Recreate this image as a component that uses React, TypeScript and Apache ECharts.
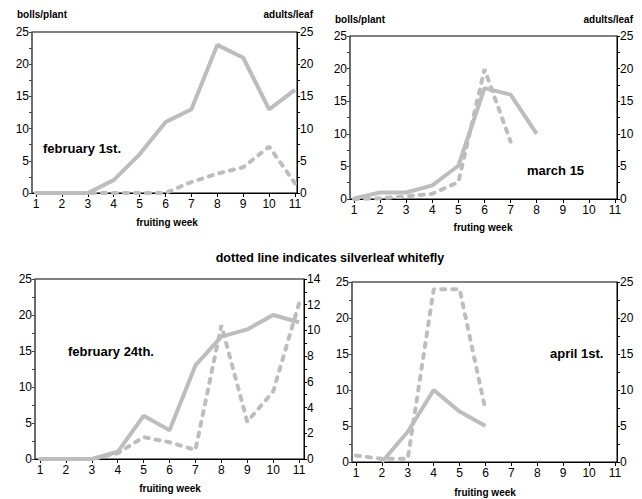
import React, { useEffect, useRef } from "react";
import * as echarts from "echarts";

const weeks = [1, 2, 3, 4, 5, 6, 7, 8, 9, 10, 11];
const weekTicks = [1, 2, 3, 4, 5, 6, 7, 8, 9, 10, 11];

// february 1st.
const feb1Bolls = [0, 0, 0, 2, 6, 11, 13, 23, 21, 13, 16];
const feb1Adults = [0, 0, 0, 0, 0, 0, 1.7, 3, 4, 7.2, 1.5];
// march 15
const mar15Bolls = [0.1, 1, 1, 2.1, 5.1, 17, 16, 10, null, null, null];
const mar15Adults = [0, 0.1, 0.4, 0.8, 2.6, 19.9, 8.8, null, null, null, null];
// february 24th.
const feb24Bolls = [0, 0, 0, 1, 6, 4, 13, 17, 18, 20, 19];
const feb24Adults = [0, 0, 0, 0.45, 1.7, 1.3, 0.7, 10.4, 2.9, 5.25, 12.1];
// april 1st.
const apr1Bolls = [null, 0, 4.2, 10, 7, 5, null, null, null, null, null];
const apr1Adults = [0.9, 0.45, 0.45, 24, 24, 7.2, null, null, null, null, null];

const titles = ["february 1st.", "march 15", "february 24th.", "april 1st."];
const xTitles = ["fruiting week", "fruting week", "fruiting week", "fruiting week"];
const rightMax = [25, 25, 14, 25];
const rightInterval = [5, 5, 2, 5];

const LINE = "#BDBDBD";
const FONT = "Liberation Sans, Arial, sans-serif";

const pairs = (vals: (number | null)[]) =>
  weeks.map((w, i) => [w, vals[i] === null ? null : vals[i]]).filter((p) => p[1] !== null);

export default function App() {
  const ref = useRef<HTMLDivElement>(null);
  useEffect(() => {
    if (!ref.current) return;
    const chart = echarts.init(ref.current, undefined, { renderer: "svg" });
    const grids = [
      { left: 32, top: 32, width: 265, height: 161, xmin: 0.846, xmax: 11.077 },
      { left: 350, top: 36, width: 267, height: 163, xmin: 0.847, xmax: 11.077 },
      { left: 35, top: 279, width: 269, height: 180, xmin: 0.807, xmax: 11.19 },
      { left: 352, top: 282, width: 265, height: 180, xmin: 0.846, xmax: 11.077 },
    ];
    const bolls = [feb1Bolls, mar15Bolls, feb24Bolls, apr1Bolls];
    const adults = [feb1Adults, mar15Adults, feb24Adults, apr1Adults];

    const labelStyle = { color: "#000", fontFamily: FONT, fontSize: 12 };

    const option: any = {
      animation: false,
      backgroundColor: "#fff",
      grid: grids.map((g) => ({
        left: g.left,
        top: g.top,
        width: g.width,
        height: g.height,
        show: true,
        borderColor: "#000",
        borderWidth: 1,
        backgroundColor: "transparent",
      })),
      xAxis: grids.map((g, i) => ({
        type: "value",
        gridIndex: i,
        min: g.xmin,
        max: g.xmax,
        splitLine: { show: false },
        axisLine: { show: true, onZero: false, lineStyle: { color: "#000", width: 1 } },
        axisTick: { show: true, length: 4, customValues: weekTicks, lineStyle: { color: "#000" } },
        axisLabel: { ...labelStyle, margin: 5, customValues: weekTicks, formatter: (v: number) => String(v) },
      })),
      yAxis: grids.flatMap((g, i) => [
        {
          type: "value",
          gridIndex: i,
          position: "left",
          min: 0,
          max: 25,
          interval: 5,
          splitLine: { show: false },
          axisLine: { show: true, onZero: false, lineStyle: { color: "#666", width: 1.5 } },
          axisTick: { show: true, length: 3, lineStyle: { color: "#444" } },
          minorTick: { show: true, splitNumber: 2, length: 3, lineStyle: { color: "#444" } },
          axisLabel: { ...labelStyle, margin: 3 },
        },
        {
          type: "value",
          gridIndex: i,
          position: "right",
          min: 0,
          max: rightMax[i],
          interval: rightInterval[i],
          splitLine: { show: false },
          axisLine: { show: true, onZero: false, lineStyle: { color: "#000", width: 1 } },
          axisTick: { show: true, length: 3, lineStyle: { color: "#000" } },
          minorTick: { show: true, splitNumber: 2, length: 3, lineStyle: { color: "#000" } },
          axisLabel: { ...labelStyle, margin: 3 },
        },
      ]),
      series: grids.flatMap((g, i) => [
        {
          type: "line",
          xAxisIndex: i,
          yAxisIndex: i * 2 + 1,
          data: pairs(adults[i]),
          showSymbol: false,
          symbol: "none",
          lineStyle: { color: LINE, width: 4, type: [4, 7], cap: "round" },
          z: 2,
        },
        {
          type: "line",
          xAxisIndex: i,
          yAxisIndex: i * 2,
          data: pairs(bolls[i]),
          showSymbol: false,
          symbol: "none",
          lineStyle: { color: LINE, width: 4 },
          z: 3,
        },
      ]),
      graphic: [
        { type: "text", x: 17, y: 14, style: { text: "bolls/plant", fill: "#000", font: `bold 10px ${FONT}`, align: "left", verticalAlign: "middle" } },
        { type: "text", x: 313, y: 14, style: { text: "adults/leaf", fill: "#000", font: `bold 10px ${FONT}`, align: "right", verticalAlign: "middle" } },
        { type: "text", x: 335, y: 19, style: { text: "bolls/plant", fill: "#000", font: `bold 10px ${FONT}`, align: "left", verticalAlign: "middle" } },
        { type: "text", x: 633, y: 19, style: { text: "adults/leaf", fill: "#000", font: `bold 10px ${FONT}`, align: "right", verticalAlign: "middle" } },
        { type: "text", x: 330, y: 258, style: { text: "dotted line indicates silverleaf whitefly", fill: "#000", font: `bold 12.5px ${FONT}`, align: "center", verticalAlign: "middle" } },
        { type: "text", x: 43, y: 148, style: { text: titles[0], fill: "#000", font: `bold 13px ${FONT}`, align: "left", verticalAlign: "middle" } },
        { type: "text", x: 527, y: 170, style: { text: titles[1], fill: "#000", font: `bold 13px ${FONT}`, align: "left", verticalAlign: "middle" } },
        { type: "text", x: 68, y: 351, style: { text: titles[2], fill: "#000", font: `bold 13px ${FONT}`, align: "left", verticalAlign: "middle" } },
        { type: "text", x: 550, y: 353, style: { text: titles[3], fill: "#000", font: `bold 13px ${FONT}`, align: "left", verticalAlign: "middle" } },
        { type: "text", x: 167, y: 222, style: { text: xTitles[0], fill: "#000", font: `bold 10px ${FONT}`, align: "center", verticalAlign: "middle" } },
        { type: "text", x: 483, y: 227, style: { text: xTitles[1], fill: "#000", font: `bold 10px ${FONT}`, align: "center", verticalAlign: "middle" } },
        { type: "text", x: 170, y: 488, style: { text: xTitles[2], fill: "#000", font: `bold 10px ${FONT}`, align: "center", verticalAlign: "middle" } },
        { type: "text", x: 485, y: 492, style: { text: xTitles[3], fill: "#000", font: `bold 10px ${FONT}`, align: "center", verticalAlign: "middle" } },
      ],
    };
    chart.setOption(option);
    return () => chart.dispose();
  }, []);
  return <div ref={ref} style={{ position: "fixed", left: 0, top: 0, width: 642, height: 499 }} />;
}
